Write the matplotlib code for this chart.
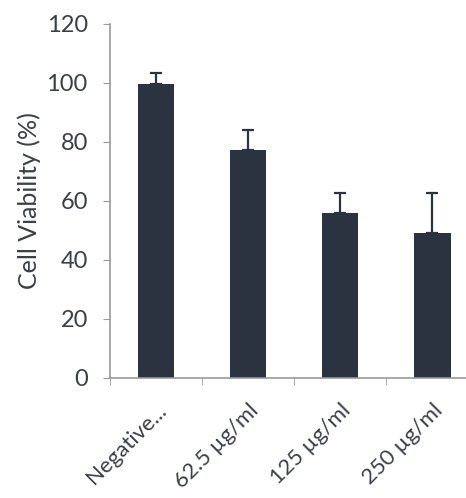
import numpy as np
import matplotlib
matplotlib.use("Agg")
import matplotlib.pyplot as plt
import matplotlib.transforms as mtransforms

groups = ["Negative...", "62.5 µg/ml", "125 µg/ml", "250 µg/ml"]
viability = [99.5, 77.3, 55.9, 49.2]
errors = [4.0, 6.8, 6.8, 13.5]

plt.rcParams['font.family'] = ['Lato', 'DejaVu Sans']

fig = plt.figure(figsize=(4.66, 4.98), dpi=100)
ax = fig.add_axes([0.236, 0.241, 0.79, 0.711])

x = np.arange(len(groups))
ax.bar(x, viability, width=0.4, color='#2b3340', zorder=2)
ax.errorbar(x, viability, yerr=[np.zeros(len(errors)), errors], fmt='none',
            ecolor='#2b3340', elinewidth=1.6, capsize=4.5, capthick=1.6, zorder=3)

ax.set_xlim(-0.5, 3.5)
ax.set_ylim(0, 120)
ax.set_yticks(range(0, 121, 20))
ax.tick_params(axis='y', labelsize=17, colors='#3a3f4a', length=5, color='#999999', pad=11)

ax.set_xticks(x)
ax.set_xticklabels(groups, rotation=45, ha='right', va='baseline', rotation_mode='anchor',
                   fontsize=16, color='#3a3f4a')
ax.set_xticks(np.arange(-0.5, 3.6, 1), minor=True)
ax.tick_params(axis='x', which='major', length=0, pad=24)
ax.tick_params(axis='x', which='minor', length=5, color='#999999')
shift = mtransforms.ScaledTranslation(12 / 100, 0, fig.dpi_scale_trans)
for lab in ax.get_xticklabels():
    lab.set_transform(lab.get_transform() + shift)

for s in ['top', 'right']:
    ax.spines[s].set_visible(False)
for s in ['left', 'bottom']:
    ax.spines[s].set_color('#999999')
    ax.spines[s].set_linewidth(1.2)

ax.set_ylabel("Cell Viability (%)", fontsize=18, color='#3a3f4a', labelpad=4)

fig.savefig("out.png", dpi=100)
